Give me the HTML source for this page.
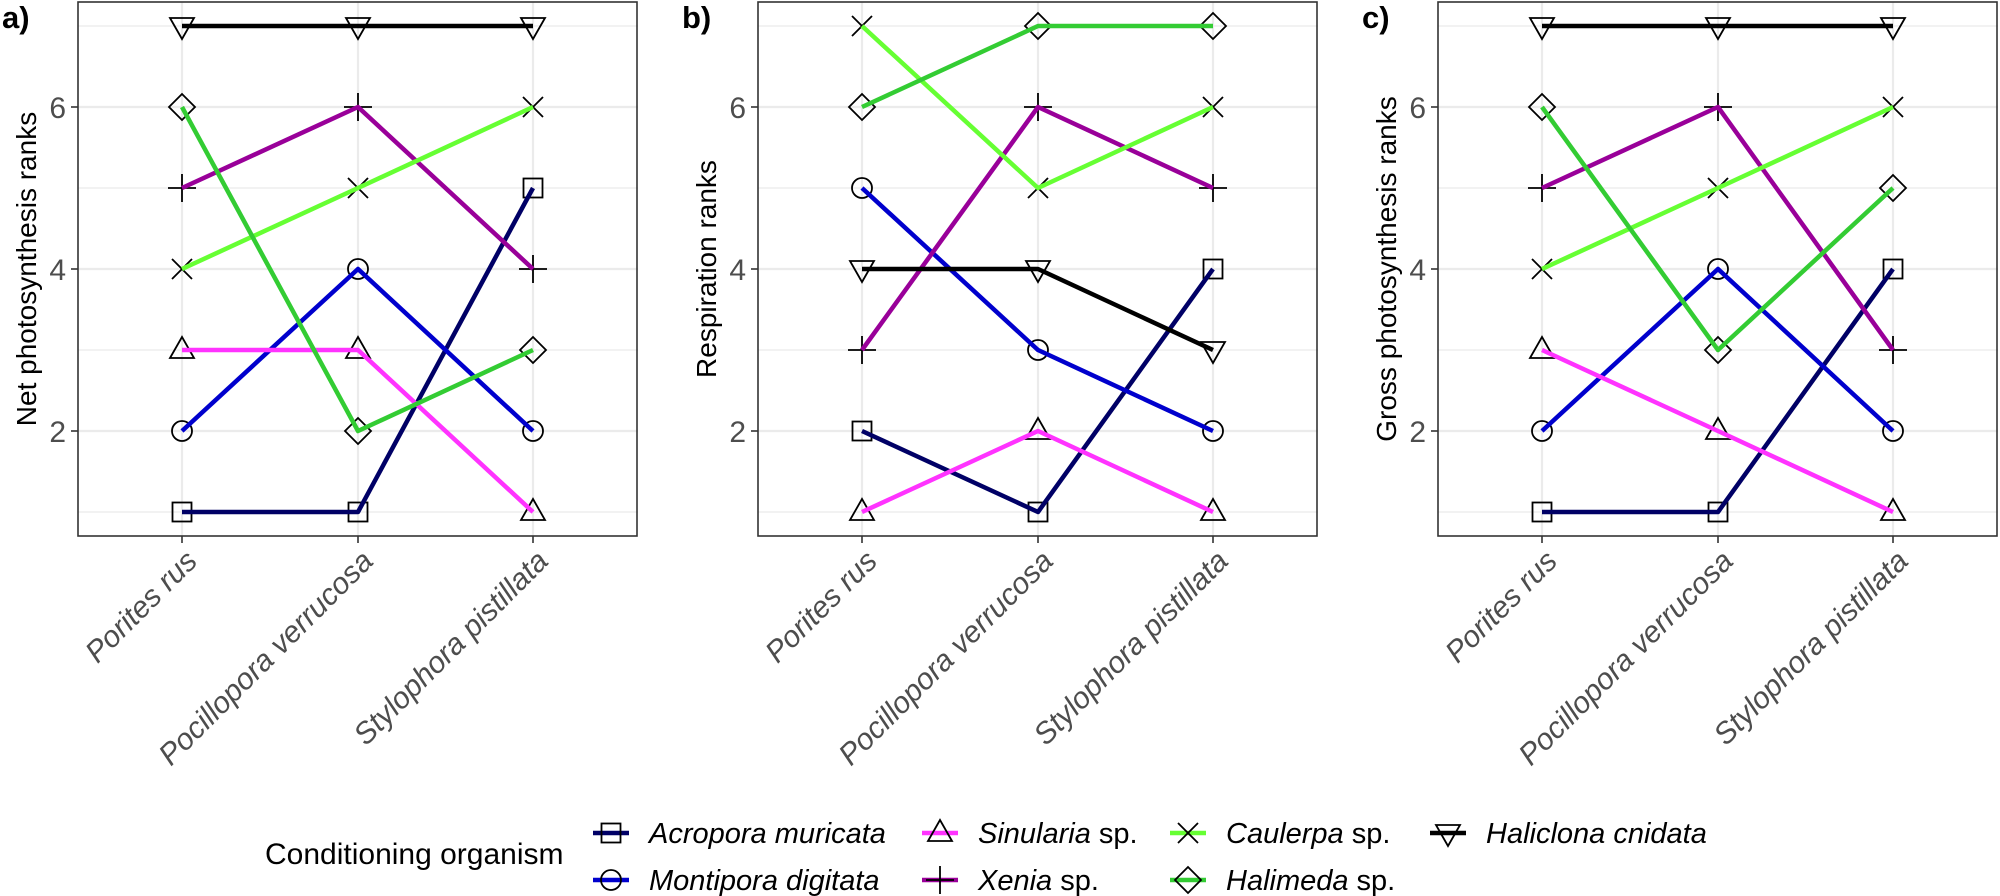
<!DOCTYPE html>
<html><head><meta charset="utf-8"><style>
html,body{margin:0;padding:0;background:#fff;}
svg{display:block;font-family:"Liberation Sans",Arial,sans-serif;}
</style></head><body>
<svg id="s" width="2000" height="896" xmlns="http://www.w3.org/2000/svg"></svg>
<script>
const S=document.getElementById('s');let h='';
const cols=['#000066','#0000CD','#FF33FF','#990099','#66FF33','#33CC33','#000000'];
const data=[
 [[1,1,5],[2,4,2],[3,3,1],[5,6,4],[4,5,6],[6,2,3],[7,7,7]],
 [[2,1,4],[5,3,2],[1,2,1],[3,6,5],[7,5,6],[6,7,7],[4,4,3]],
 [[1,1,4],[2,4,2],[3,2,1],[5,6,3],[4,5,6],[6,3,5],[7,7,7]]];
const titles=['Net photosynthesis ranks','Respiration ranks','Gross photosynthesis ranks'];
const labs=['a)','b)','c)'];
const lefts=[78,758,1438];
const W=560,T=2,B=536;
const Y=v=>512-(v-1)*81;
function shape(k,x,y){
 const st='fill="none" stroke="#000" stroke-width="1.8"';
 switch(k){
 case 0:return `<rect x="${x-9.5}" y="${y-9.5}" width="19" height="19" ${st}/>`;
 case 1:return `<circle cx="${x}" cy="${y}" r="10" ${st}/>`;
 case 2:return `<polygon points="${x},${y-13} ${x-12},${y+8} ${x+12},${y+8}" ${st}/>`;
 case 3:return `<path d="M${x-14} ${y}H${x+14}M${x} ${y-14}V${y+14}" ${st}/>`;
 case 4:return `<path d="M${x-10} ${y-10}L${x+10} ${y+10}M${x-10} ${y+10}L${x+10} ${y-10}" ${st}/>`;
 case 5:return `<polygon points="${x},${y-13} ${x+13},${y} ${x},${y+13} ${x-13},${y}" ${st}/>`;
 case 6:return `<polygon points="${x},${y+13} ${x-12},${y-8} ${x+12},${y-8}" ${st}/>`;
 }}
const xn=['Porites rus','Pocillopora verrucosa','Stylophora pistillata'];
for(let p=0;p<3;p++){
 const L=lefts[p],xs=[L+104,L+280,L+455];
 for(let v=1;v<=7;v++){h+=`<line x1="${L}" x2="${L+W}" y1="${Y(v)}" y2="${Y(v)}" stroke="#EBEBEB" stroke-width="${v%2?1.2:2.2}"/>`;}
 xs.forEach(x=>h+=`<line x1="${x}" x2="${x}" y1="${T}" y2="${B}" stroke="#EBEBEB" stroke-width="2.2"/>`);
 data[p].forEach((d,k)=>d.forEach((v,i)=>h+=shape(k,xs[i],Y(v))));
 data[p].forEach((d,k)=>h+=`<polyline points="${d.map((v,i)=>xs[i]+','+Y(v)).join(' ')}" fill="none" stroke="${cols[k]}" stroke-width="4.5" stroke-linejoin="round"/>`);
 h+=`<rect x="${L}" y="${T}" width="${W-1}" height="${B-T}" fill="none" stroke="#333" stroke-width="1.6"/>`;
 [2,4,6].forEach(v=>{h+=`<line x1="${L-7}" x2="${L}" y1="${Y(v)}" y2="${Y(v)}" stroke="#333" stroke-width="1.6"/><text x="${L-12}" y="${Y(v)+11}" font-size="30" fill="#4D4D4D" text-anchor="end">${v}</text>`;});
 xs.forEach((x,i)=>{h+=`<line x1="${x}" x2="${x}" y1="${B}" y2="${B+7}" stroke="#333" stroke-width="1.6"/><text transform="translate(${x+2},${B+12}) rotate(-45)" y="21" font-size="30" font-style="italic" fill="#4D4D4D" text-anchor="end">${xn[i]}</text>`;});
 const cy=(T+B)/2;
 h+=`<text transform="translate(${L-52},${cy}) rotate(-90)" y="10" font-size="28" text-anchor="middle" fill="#000">${titles[p]}</text>`;
 h+=`<text x="${L-76}" y="28" font-size="31" font-weight="bold" fill="#000">${labs[p]}</text>`;
}
// legend
h+=`<text x="265" y="864" font-size="30" fill="#000">Conditioning organism</text>`;
const leg=[[611,833,0,'<tspan font-style="italic">Acropora muricata</tspan>'],[611,880,1,'<tspan font-style="italic">Montipora digitata</tspan>'],
[940,833,2,'<tspan font-style="italic">Sinularia</tspan> sp.'],[940,880,3,'<tspan font-style="italic">Xenia</tspan> sp.'],
[1188,833,4,'<tspan font-style="italic">Caulerpa</tspan> sp.'],[1188,880,5,'<tspan font-style="italic">Halimeda</tspan> sp.'],
[1448,833,6,'<tspan font-style="italic">Haliclona cnidata</tspan>']];
leg.forEach(([x,y,k,t])=>{h+=`<line x1="${x-18}" x2="${x+18}" y1="${y}" y2="${y}" stroke="${cols[k]}" stroke-width="4.5"/>`+shape(k,x,y)+`<text x="${x+38}" y="${y+10}" font-size="29" fill="#000">${t}</text>`;});
S.innerHTML=h;
</script>
</body></html>
